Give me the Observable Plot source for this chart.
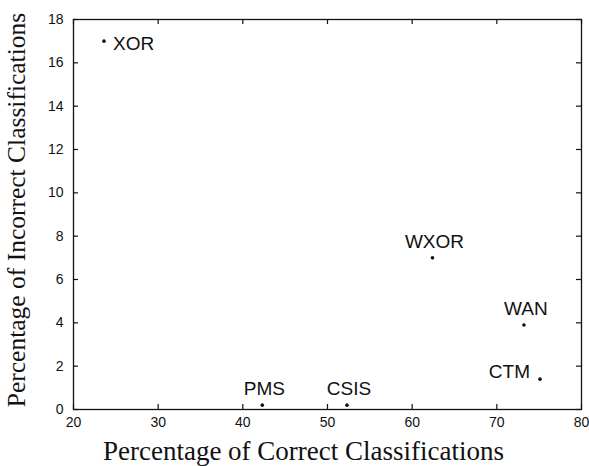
<!DOCTYPE html>
<html>
<head>
<meta charset="utf-8">
<script src="https://cdn.jsdelivr.net/npm/d3@7"></script>
<script src="https://cdn.jsdelivr.net/npm/@observablehq/plot@0.6"></script>
<style>
  html, body { margin: 0; padding: 0; background: #fff; }
  svg { display: block; }
</style>
</head>
<body>
<div id="chart"></div>
<script>
const names = ["XOR", "WXOR", "WAN", "CTM", "PMS", "CSIS"];
const correct = [23.6, 62.4, 73.2, 75.1, 42.3, 52.3];
const incorrect = [17.0, 7.0, 3.9, 1.4, 0.2, 0.2];
const xTicks = [20, 30, 40, 50, 60, 70, 80];
const yTicks = [0, 2, 4, 6, 8, 10, 12, 14, 16, 18];
const xTitle = "Percentage of Correct Classifications";
const yTitle = "Percentage of Incorrect Classifications";

const points = names.map((name, i) => ({name, x: correct[i], y: incorrect[i]}));

const W = 589, H = 466;
const mL = 73, mR = 8, mT = 19, mB = 57;
const xDom = [20, 80], yDom = [0, 18];
const tickPx = 5;
const xUnitPerPx = (xDom[1] - xDom[0]) / (W - mL - mR);
const yUnitPerPx = (yDom[1] - yDom[0]) / (H - mT - mB);
const tx = tickPx * xUnitPerPx, ty = tickPx * yUnitPerPx;

const sans = "Liberation Sans, Arial, Helvetica, sans-serif";
const serif = "Liberation Serif, Times New Roman, serif";

const above = new Set(["WXOR", "WAN", "PMS", "CSIS"]);

const chart = Plot.plot({
  width: W, height: H,
  marginLeft: mL, marginRight: mR, marginTop: mT, marginBottom: mB,
  style: {background: "#fff", color: "#111"},
  x: {domain: xDom},
  y: {domain: yDom},
  marks: [
    Plot.frame({stroke: "#111", strokeWidth: 1.3}),
    // inward ticks
    Plot.ruleX(xTicks, {x: d => d, y1: yDom[0], y2: yDom[0] + ty, stroke: "#111", strokeWidth: 1.2}),
    Plot.ruleX(xTicks, {x: d => d, y1: yDom[1] - ty, y2: yDom[1], stroke: "#111", strokeWidth: 1.2}),
    Plot.ruleY(yTicks, {y: d => d, x1: xDom[0], x2: xDom[0] + tx, stroke: "#111", strokeWidth: 1.2}),
    Plot.ruleY(yTicks, {y: d => d, x1: xDom[1] - tx, x2: xDom[1], stroke: "#111", strokeWidth: 1.2}),
    Plot.axisX(xTicks, {tickSize: 0, tickPadding: 8, fontSize: 14, fontFamily: sans, label: null, fill: "#111"}),
    Plot.axisY(yTicks, {tickSize: 0, tickPadding: 10, fontSize: 14, fontFamily: sans, label: null, fill: "#111"}),
    Plot.dot(points, {x: "x", y: "y", r: 1.8, fill: "#111", stroke: null}),
    Plot.text(points, {filter: d => d.name === "XOR", x: "x", y: "y", text: "name", textAnchor: "start", dx: 9, dy: 3, fontSize: 19, fontFamily: sans, fill: "#111"}),
    Plot.text(points, {filter: d => above.has(d.name), x: "x", y: "y", text: "name", dx: 2, dy: -16, fontSize: 19, fontFamily: sans, fill: "#111"}),
    Plot.text(points, {filter: d => d.name === "CTM", x: "x", y: "y", text: "name", textAnchor: "end", dx: -10, dy: -7, fontSize: 19, fontFamily: sans, fill: "#111"}),
    Plot.text([xTitle], {text: d => d, frameAnchor: "bottom", textAnchor: "middle", lineAnchor: "bottom", dx: -24, dy: 50, fontSize: 27, fontFamily: serif, fill: "#111"}),
    Plot.text([yTitle], {text: d => d, frameAnchor: "left", textAnchor: "middle", lineAnchor: "middle", rotate: -90, dx: -57, dy: -4.5, fontSize: 25.5, fontFamily: serif, fill: "#111"})
  ]
});
document.getElementById("chart").appendChild(chart);
</script>
</body>
</html>
